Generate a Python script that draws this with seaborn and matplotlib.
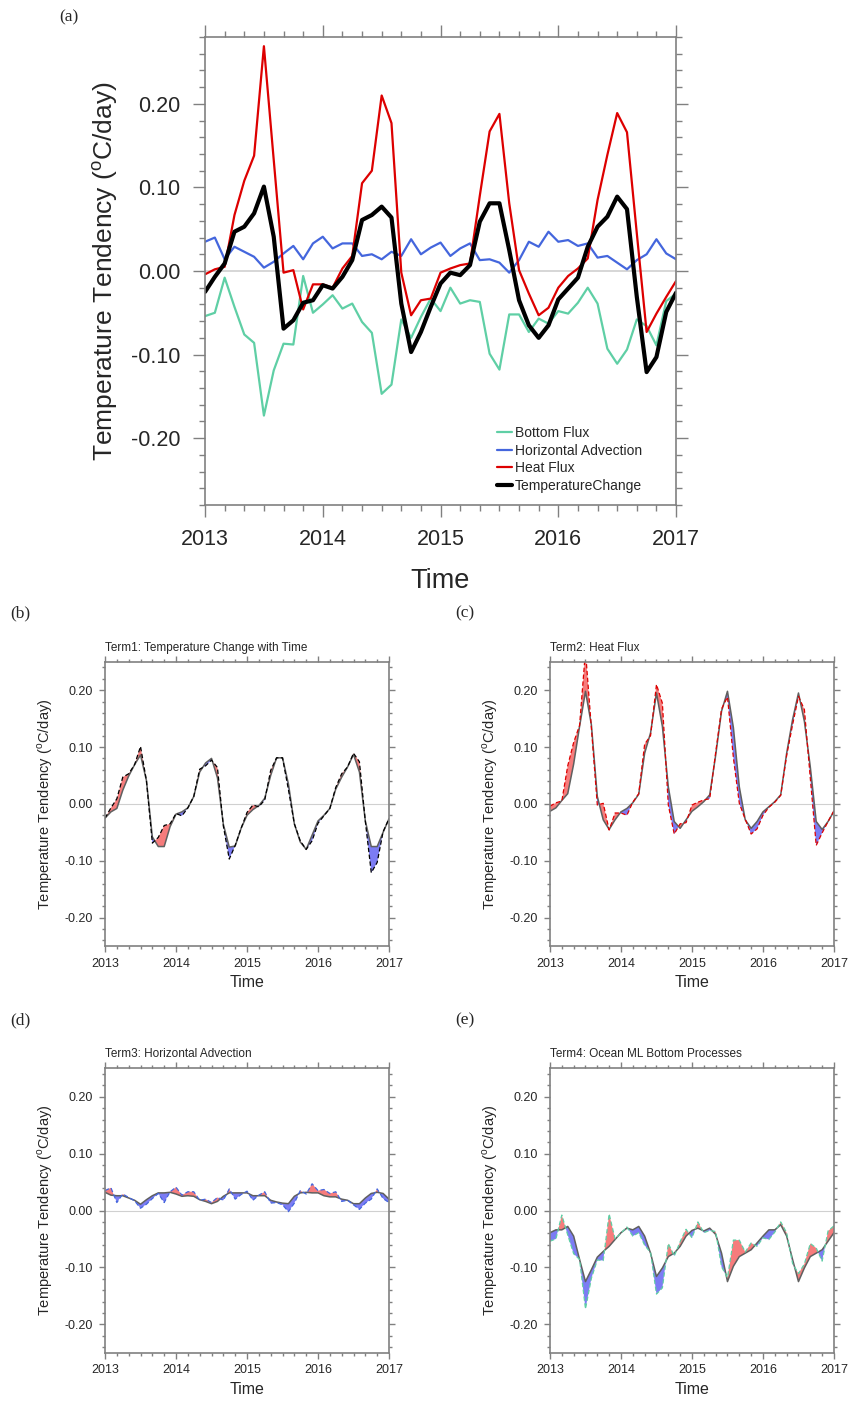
# pip install pandas numpy matplotlib seaborn
import numpy as np
import pandas as pd
import matplotlib
matplotlib.use("Agg")
import matplotlib.pyplot as plt
import seaborn as sns
from matplotlib.ticker import MultipleLocator, FuncFormatter

sns.set_style("ticks")
plt.rcParams['font.family'] = ['Liberation Sans', 'DejaVu Sans']
plt.rcParams['mathtext.fontset'] = 'custom'
plt.rcParams['mathtext.rm'] = 'Liberation Sans'

# monthly values, Jan 2013 .. Jan 2017 (degC/day)
months = np.arange(49)
time = 2013 + months / 12.0

bottom_flux = [-0.054, -0.050, -0.008, -0.043, -0.076, -0.086, -0.173, -0.119, -0.087, -0.088,
               -0.006, -0.050, -0.040, -0.029, -0.045, -0.039, -0.061, -0.074, -0.147, -0.136,
               -0.058, -0.080, -0.055, -0.033, -0.048, -0.020, -0.039, -0.035, -0.037, -0.099,
               -0.118, -0.052, -0.052, -0.073, -0.057, -0.063, -0.048, -0.051, -0.038, -0.020,
               -0.039, -0.093, -0.111, -0.094, -0.058, -0.066, -0.089, -0.036, -0.027]
horiz_adv = [0.035, 0.040, 0.014, 0.029, 0.023, 0.017, 0.004, 0.011, 0.021, 0.030,
             0.014, 0.033, 0.041, 0.027, 0.033, 0.033, 0.018, 0.020, 0.014, 0.023,
             0.018, 0.038, 0.020, 0.028, 0.034, 0.018, 0.027, 0.033, 0.013, 0.014,
             0.010, -0.002, 0.013, 0.035, 0.029, 0.047, 0.035, 0.037, 0.030, 0.033,
             0.016, 0.018, 0.010, 0.002, 0.013, 0.020, 0.038, 0.021, 0.014]
heat_flux = [-0.004, 0.002, 0.005, 0.067, 0.108, 0.138, 0.269, 0.133, -0.002, 0.001,
             -0.046, -0.016, -0.016, -0.020, 0.003, 0.018, 0.105, 0.120, 0.210, 0.177,
             -0.002, -0.053, -0.035, -0.033, -0.002, 0.003, 0.007, 0.009, 0.090, 0.167,
             0.188, 0.081, 0.001, -0.027, -0.053, -0.044, -0.020, -0.006, 0.003, 0.015,
             0.085, 0.139, 0.189, 0.166, 0.045, -0.073, -0.051, -0.031, -0.012]
temp_change = [-0.025, -0.007, 0.009, 0.047, 0.053, 0.069, 0.101, 0.041, -0.069, -0.059,
               -0.038, -0.035, -0.017, -0.021, -0.007, 0.013, 0.061, 0.067, 0.077, 0.064,
               -0.039, -0.097, -0.073, -0.043, -0.015, -0.002, -0.005, 0.007, 0.059, 0.081,
               0.081, 0.025, -0.035, -0.065, -0.080, -0.065, -0.034, -0.021, -0.008, 0.029,
               0.053, 0.065, 0.089, 0.074, -0.031, -0.121, -0.103, -0.049, -0.026]

# reference curves (solid grey) in panels b-e
ref_temp = [-0.025, -0.014, -0.008, 0.024, 0.049, 0.069, 0.086, 0.041, -0.058, -0.075,
            -0.075, -0.040, -0.018, -0.014, -0.007, 0.013, 0.056, 0.072, 0.080, 0.046,
            -0.036, -0.076, -0.074, -0.043, -0.020, -0.010, -0.003, 0.010, 0.050, 0.081,
            0.081, 0.035, -0.035, -0.067, -0.080, -0.055, -0.030, -0.020, -0.008, 0.026,
            0.047, 0.065, 0.087, 0.056, -0.030, -0.075, -0.075, -0.050, -0.026]
ref_heat = [-0.013, -0.007, 0.006, 0.018, 0.070, 0.136, 0.198, 0.139, 0.013, -0.028,
            -0.045, -0.028, -0.014, -0.008, 0.002, 0.017, 0.089, 0.125, 0.195, 0.136,
            0.030, -0.031, -0.043, -0.028, -0.013, -0.005, 0.004, 0.016, 0.085, 0.163,
            0.198, 0.134, 0.030, -0.028, -0.043, -0.031, -0.014, -0.005, 0.004, 0.016,
            0.089, 0.148, 0.195, 0.145, 0.065, -0.031, -0.045, -0.031, -0.013]
ref_adv = [0.032, 0.027, 0.026, 0.026, 0.022, 0.018, 0.011, 0.019, 0.026, 0.031,
           0.031, 0.032, 0.029, 0.025, 0.026, 0.025, 0.019, 0.016, 0.012, 0.016,
           0.025, 0.031, 0.031, 0.031, 0.031, 0.026, 0.026, 0.026, 0.018, 0.015,
           0.013, 0.012, 0.025, 0.031, 0.032, 0.031, 0.031, 0.026, 0.024, 0.024,
           0.020, 0.018, 0.012, 0.012, 0.022, 0.030, 0.032, 0.030, 0.020]
ref_bottom = [-0.039, -0.034, -0.034, -0.028, -0.045, -0.086, -0.125, -0.104, -0.082, -0.072,
              -0.063, -0.051, -0.039, -0.031, -0.034, -0.028, -0.045, -0.075, -0.116, -0.101,
              -0.081, -0.075, -0.063, -0.045, -0.035, -0.031, -0.036, -0.031, -0.042, -0.075,
              -0.125, -0.098, -0.081, -0.075, -0.069, -0.057, -0.045, -0.034, -0.034, -0.025,
              -0.045, -0.086, -0.125, -0.101, -0.081, -0.075, -0.069, -0.054, -0.039]

GREEN = '#5fcfa5'
BLUE = '#4466dd'
RED = '#dd0000'
FILL_RED = '#f67c7c'
FILL_BLUE = '#7c7cf4'
AXCOL = '#808080'
YLAB = 'Temperature Tendency ($^\\mathrm{o}$C/day)'


def style_axes(ax, ylim, big=False):
    ax.set_xlim(2013, 2017)
    ax.set_ylim(-ylim, ylim)
    ax.xaxis.set_major_locator(MultipleLocator(1))
    ax.xaxis.set_minor_locator(MultipleLocator(1 / 6))
    ax.yaxis.set_major_locator(MultipleLocator(0.1))
    ax.yaxis.set_minor_locator(MultipleLocator(0.02))
    ax.xaxis.set_major_formatter(FuncFormatter(lambda v, p: f"{int(round(v))}"))
    ax.yaxis.set_major_formatter(FuncFormatter(lambda v, p: f"{0 if abs(v) < 1e-9 else v:.2f}"))
    if big:
        ax.tick_params(which='major', length=8.5, labelsize=15.5, pad=9)
        ax.tick_params(which='minor', length=4.3)
    else:
        ax.tick_params(which='major', length=4.5, labelsize=9, pad=4)
        ax.tick_params(which='minor', length=2.3)
    ax.tick_params(which='both', direction='out', top=True, right=True,
                   color=AXCOL, width=1)
    for s in ax.spines.values():
        s.set_color(AXCOL)
        s.set_linewidth(1.2)
    ax.axhline(0, color='#d0d0d0', lw=1.2 if big else 0.8, zorder=0)


fig = plt.figure(figsize=(8.49, 14.07), dpi=100)

# ---- panel (a): all four terms
ax = fig.add_axes([0.2415, 0.6411, 0.5548, 0.3326])
df = pd.DataFrame({'time': time, 'Bottom Flux': bottom_flux,
                   'Horizontal Advection': horiz_adv, 'Heat Flux': heat_flux,
                   'TemperatureChange': temp_change})
for name, col, lw in [('Bottom Flux', GREEN, 1.6), ('Horizontal Advection', BLUE, 1.6),
                      ('Heat Flux', RED, 1.6), ('TemperatureChange', 'black', 3.0)]:
    sns.lineplot(data=df, x='time', y=name, ax=ax, color=col, lw=lw, label=name)
style_axes(ax, 0.28, big=True)
ax.set_xlabel('Time', fontsize=19.5, labelpad=13)
ax.set_ylabel(YLAB, fontsize=19, labelpad=8)
ax.legend(loc='upper left', bbox_to_anchor=(0.62, 0.168), frameon=False, fontsize=10,
          handlelength=1.05, handletextpad=0.25, labelspacing=0.25,
          borderaxespad=0, borderpad=0)

# ---- panels (b)-(e): term vs reference with red/blue shading
panels = [
    ([0.1237, 0.3276, 0.3345, 0.2021], temp_change, ref_temp, 'black',
     'Term1: Temperature Change with Time'),
    ([0.6478, 0.3276, 0.3345, 0.2021], heat_flux, ref_heat, RED, 'Term2: Heat Flux'),
    ([0.1237, 0.0386, 0.3345, 0.2021], horiz_adv, ref_adv, BLUE,
     'Term3: Horizontal Advection'),
    ([0.6478, 0.0386, 0.3345, 0.2021], bottom_flux, ref_bottom, GREEN,
     'Term4: Ocean ML Bottom Processes'),
]
for rect, series, ref, col, title in panels:
    ax = fig.add_axes(rect)
    s = np.array(series)
    r = np.array(ref)
    ax.fill_between(time, r, s, where=s >= r, interpolate=True, color=FILL_RED, lw=0)
    ax.fill_between(time, r, s, where=s <= r, interpolate=True, color=FILL_BLUE, lw=0)
    sns.lineplot(x=time, y=r, ax=ax, color='#606060', lw=1.1)
    sns.lineplot(x=time, y=s, ax=ax, color=col, lw=0.9, ls=(0, (3.5, 2)))
    style_axes(ax, 0.25)
    ax.set_xlabel('Time', fontsize=11.5, labelpad=4)
    ax.set_ylabel(YLAB, fontsize=10.5, labelpad=7)
    ax.set_title(title, loc='left', fontsize=8.5, pad=8)

for lab, x, y in [('(a)', 0.0813, 0.9879), ('(b)', 0.0236, 0.5643), ('(c)', 0.5477, 0.5643),
                  ('(d)', 0.0236, 0.2751), ('(e)', 0.5477, 0.2751)]:
    fig.text(x, y, lab, fontsize=12.5, family='Liberation Serif', ha='center', va='center')

fig.savefig('out.png', dpi=100)
